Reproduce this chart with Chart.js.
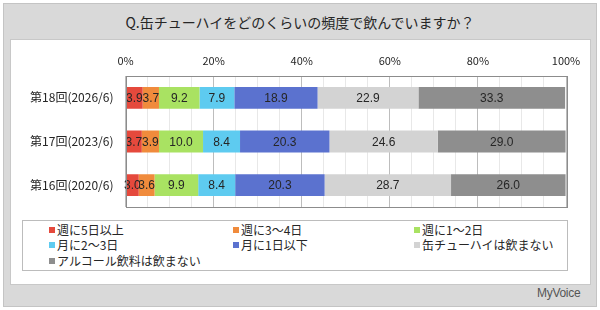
<!DOCTYPE html>
<html>
<head>
<meta charset="utf-8">
<script src="https://cdn.jsdelivr.net/npm/chart.js@4/dist/chart.umd.min.js"></script>
<style>
  body { margin: 0; width: 600px; height: 310px; background: #fff; font-family: "Noto Sans CJK JP", sans-serif; color: #262626; }
  #frame { position: absolute; left: 3px; top: 3px; width: 592px; height: 302px; background: #d9d9d9; border: 1px solid #c4c4c4; }
  #title { position: absolute; left: 0; top: 12px; width: 600px; text-align: center; font-size: 14px; }
  #panel { position: absolute; left: 10px; top: 39px; width: 579px; height: 244px; background: #fff; border: 1px solid #c8c8c8; }
  #wrap { position: absolute; left: 10px; top: 40px; width: 580px; height: 180px; }
  #legend { position: absolute; left: 22px; top: 220px; width: 544px; height: 49px; border: 1px solid #bcbcbc; background: #fff; font-size: 12px; }
  .item { position: absolute; white-space: nowrap; line-height: 14px; }
  .item span { display: inline-block; width: 6px; height: 6px; margin-right: 2px; vertical-align: 2px; }
  #logo { position: absolute; left: 537px; top: 286px; font-family: "Liberation Sans", sans-serif; font-size: 12px; color: #555; letter-spacing: -0.3px; }
</style>
</head>
<body>
<div id="frame"></div>
<div id="title">Q.缶チューハイをどのくらいの頻度で飲んでいますか？</div>
<div id="panel"></div>
<div id="wrap"><canvas id="chart"></canvas></div>
<div id="legend"></div>
<div id="logo">MyVoice</div>
<script>
let categories = ["第18回(2026/6)", "第17回(2023/6)", "第16回(2020/6)"];
let seriesNames = ["週に5日以上", "週に3～4日", "週に1～2日", "月に2～3日", "月に1日以下", "缶チューハイは飲まない", "アルコール飲料は飲まない"];
let week5 = [3.9, 3.7, 3.0];
let week3 = [3.7, 3.9, 3.6];
let week1 = [9.2, 10.0, 9.9];
let month2 = [7.9, 8.4, 8.4];
let month1 = [18.9, 20.3, 20.3];
let noChuhai = [22.9, 24.6, 28.7];
let noAlcohol = [33.3, 29.0, 26.0];
let seriesValues = [week5, week3, week1, month2, month1, noChuhai, noAlcohol];
let seriesColors = ["#e5493c", "#f08b3c", "#a9e262", "#5ecbf0", "#5b72cf", "#d3d3d3", "#8e8e8e"];

// legend in three columns
let legendBox = document.getElementById("legend");
let colX = [26, 210, 391];
let rowY = [2, 17, 33];
seriesNames.forEach(function (name, i) {
    let item = document.createElement("div");
    item.className = "item";
    item.style.left = colX[i % 3] + "px";
    item.style.top = rowY[Math.floor(i / 3)] + "px";
    item.innerHTML = '<span style="background:' + seriesColors[i] + '"></span>' + name;
    legendBox.appendChild(item);
});

let valueLabels = {
    id: 'valueLabels',
    afterDatasetsDraw(chart) {
        let ctx = chart.ctx;
        ctx.save();
        ctx.font = '12px "Liberation Sans", sans-serif';
        ctx.fillStyle = '#262626';
        ctx.textAlign = 'center';
        ctx.textBaseline = 'middle';
        chart.data.datasets.forEach(function (ds, di) {
            chart.getDatasetMeta(di).data.forEach(function (bar, j) {
                let cx = (bar.x + bar.base) / 2;
                ctx.fillText(ds.data[j].toFixed(1), cx, bar.y + 1);
            });
        });
        ctx.restore();
    }
};

let plotBorder = {
    id: 'plotBorder',
    afterDraw(chart) {
        let a = chart.chartArea;
        let ctx = chart.ctx;
        ctx.save();
        ctx.strokeStyle = '#8c8c8c';
        ctx.lineWidth = 1;
        ctx.strokeRect(Math.round(a.left) + 0.5, Math.round(a.top) + 0.5, Math.round(a.right - a.left), Math.round(a.bottom - a.top));
        ctx.restore();
    }
};

let ctx = document.getElementById("chart").getContext('2d');
new Chart(ctx, {
    type: 'bar',
    data: {
        labels: categories,
        datasets: seriesNames.map(function (name, i) {
            return {
                label: name,
                data: seriesValues[i],
                backgroundColor: seriesColors[i],
                borderWidth: 0,
                barPercentage: 0.5,
                categoryPercentage: 1.0
            };
        })
    },
    options: {
        indexAxis: 'y',
        responsive: true,
        maintainAspectRatio: false,
        animation: false,
        layout: { padding: { left: 0, right: 24, top: 0, bottom: 13 } },
        plugins: { legend: { display: false }, tooltip: { enabled: false } },
        scales: {
            x: {
                position: 'top',
                stacked: true,
                min: 0,
                max: 100,
                afterFit: function (s) { s.height = 36; },
                border: { display: false },
                grid: {
                    drawTicks: false,
                    color: function (c) { return c.tick && c.tick.value % 20 === 0 ? '#bdbdbd' : '#e8e8e8'; }
                },
                ticks: {
                    stepSize: 5,
                    autoSkip: false,
                    maxRotation: 0,
                    padding: 9,
                    color: '#262626',
                    font: { family: '"Noto Sans CJK JP", sans-serif', size: 11 },
                    callback: function (v) { return v % 20 === 0 ? v + '%' : ''; }
                }
            },
            y: {
                stacked: true,
                afterFit: function (s) { s.width = 115.5; },
                border: { display: false },
                grid: { display: false },
                ticks: {
                    padding: 4,
                    color: '#262626',
                    font: { family: '"Noto Sans CJK JP", sans-serif', size: 12 }
                }
            }
        }
    },
    plugins: [valueLabels, plotBorder]
});
</script>
</body>
</html>
